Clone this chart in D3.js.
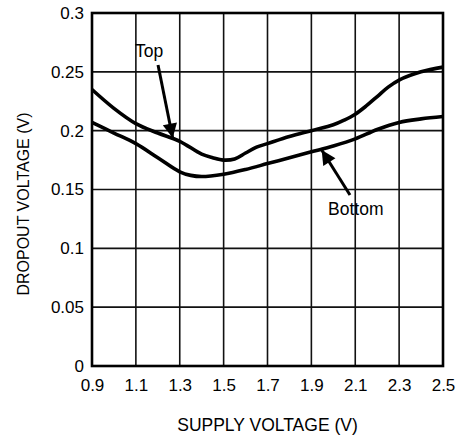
<!DOCTYPE html>
<html>
<head>
<meta charset="utf-8">
<script src="https://cdn.jsdelivr.net/npm/d3@7"></script>
<style>
  html, body { margin: 0; padding: 0; background: #fff; }
  svg { display: block; }
  text { font-family: "Liberation Sans", Arial, Helvetica, sans-serif; fill: #000; }
</style>
</head>
<body>
<svg id="chart" width="465" height="441"></svg>
<script>
// Supply voltage (V) sample points
const supplyTop = [0.9, 1.0, 1.1, 1.2, 1.3, 1.4, 1.45, 1.5, 1.55, 1.6, 1.65, 1.7, 1.8, 1.9, 2.0, 2.05, 2.1, 2.15, 2.2, 2.25, 2.3, 2.4, 2.5];
const dropoutTop = [0.235, 0.219, 0.206, 0.198, 0.191, 0.180, 0.177, 0.175, 0.176, 0.181, 0.186, 0.189, 0.195, 0.200, 0.205, 0.209, 0.214, 0.221, 0.229, 0.237, 0.243, 0.250, 0.254];

const supplyBottom = [0.9, 1.0, 1.1, 1.2, 1.3, 1.35, 1.4, 1.5, 1.6, 1.7, 1.8, 1.9, 2.0, 2.1, 2.2, 2.3, 2.4, 2.5];
const dropoutBottom = [0.207, 0.198, 0.189, 0.177, 0.165, 0.162, 0.161, 0.163, 0.167, 0.172, 0.177, 0.182, 0.187, 0.193, 0.201, 0.207, 0.210, 0.212];

const xTicks = [0.9, 1.1, 1.3, 1.5, 1.7, 1.9, 2.1, 2.3, 2.5];
const yTicks = [0, 0.05, 0.1, 0.15, 0.2, 0.25, 0.3];
const xTickLabels = ["0.9", "1.1", "1.3", "1.5", "1.7", "1.9", "2.1", "2.3", "2.5"];
const yTickLabels = ["0", "0.05", "0.1", "0.15", "0.2", "0.25", "0.3"];

// Callouts: label, text anchor point, arrow tail and tip (data units)
const callouts = [
  { label: "Top",    tx: 1.096, ty: 0.263, from: [1.201, 0.2558], to: [1.268, 0.1938] },
  { label: "Bottom", tx: 1.976, ty: 0.128, from: [2.076, 0.1453], to: [1.947, 0.1836] }
];

const svg = d3.select("#chart");
const margin = { left: 92, right: 22, top: 13, bottom: 75 };
const W = 465, H = 441;

const x = d3.scaleLinear().domain([0.9, 2.5]).range([margin.left, W - margin.right]);
const y = d3.scaleLinear().domain([0, 0.3]).range([H - margin.bottom, margin.top]);

// grid
const grid = svg.append("g").attr("stroke", "#111").attr("stroke-width", 1.6);
grid.selectAll("line.vx").data(xTicks).join("line")
  .attr("x1", d => x(d)).attr("x2", d => x(d))
  .attr("y1", y(0)).attr("y2", y(0.3));
grid.selectAll("line.hy").data(yTicks).join("line")
  .attr("y1", d => y(d)).attr("y2", d => y(d))
  .attr("x1", x(0.9)).attr("x2", x(2.5));

// frame
svg.append("rect")
  .attr("x", x(0.9)).attr("y", y(0.3))
  .attr("width", x(2.5) - x(0.9)).attr("height", y(0) - y(0.3))
  .attr("fill", "none").attr("stroke", "#000").attr("stroke-width", 2.6);

// axes (labels only; the frame and grid carry the lines)
const xAxis = d3.axisBottom(x).tickValues(xTicks).tickSize(0).tickPadding(13)
  .tickFormat((d, i) => xTickLabels[i]);
const yAxis = d3.axisLeft(y).tickValues(yTicks).tickSize(0).tickPadding(8)
  .tickFormat((d, i) => yTickLabels[i]);

const gx = svg.append("g").attr("transform", `translate(0,${y(0)})`).call(xAxis);
const gy = svg.append("g").attr("transform", `translate(${x(0.9)},0)`).call(yAxis);
[gx, gy].forEach(g => {
  g.select(".domain").remove();
  g.selectAll("text").attr("font-size", 17).attr("fill", "#000")
    .attr("font-family", "'Liberation Sans', Arial, sans-serif");
});

// curves
const line = d3.line().curve(d3.curveCatmullRom.alpha(0.5))
  .x(d => x(d[0])).y(d => y(d[1]));
const curves = [
  d3.zip(supplyTop, dropoutTop),
  d3.zip(supplyBottom, dropoutBottom)
];
svg.append("g").selectAll("path").data(curves).join("path")
  .attr("d", line)
  .attr("fill", "none").attr("stroke", "#000").attr("stroke-width", 3.6)
  .attr("stroke-linejoin", "round").attr("stroke-linecap", "butt");

// callout arrows and labels
const defs = svg.append("defs");
defs.append("marker")
  .attr("id", "head").attr("viewBox", "0 0 10 10")
  .attr("refX", 10).attr("refY", 5)
  .attr("markerWidth", 7).attr("markerHeight", 4.8)
  .attr("markerUnits", "strokeWidth").attr("orient", "auto")
  .append("path").attr("d", "M0,0 L10,5 L0,10 Z").attr("fill", "#000");

const cg = svg.append("g");
callouts.forEach(c => {
  const x1 = x(c.from[0]), y1 = y(c.from[1]);
  const x2 = x(c.to[0]), y2 = y(c.to[1]);
  cg.append("line")
    .attr("x1", x1).attr("y1", y1).attr("x2", x2).attr("y2", y2)
    .attr("stroke", "#000").attr("stroke-width", 3)
    .attr("marker-end", "url(#head)");
  cg.append("text")
    .attr("x", x(c.tx)).attr("y", y(c.ty))
    .attr("font-size", 17.5)
    .text(c.label);
});

// axis titles
svg.append("text")
  .attr("x", (x(0.9) + x(2.5)) / 2).attr("y", 431)
  .attr("text-anchor", "middle").attr("font-size", 17.5)
  .text("SUPPLY VOLTAGE (V)");
svg.append("text")
  .attr("transform", `translate(29,${204}) rotate(-90)`)
  .attr("text-anchor", "middle").attr("font-size", 16)
  .text("DROPOUT VOLTAGE (V)");
</script>
</body>
</html>
